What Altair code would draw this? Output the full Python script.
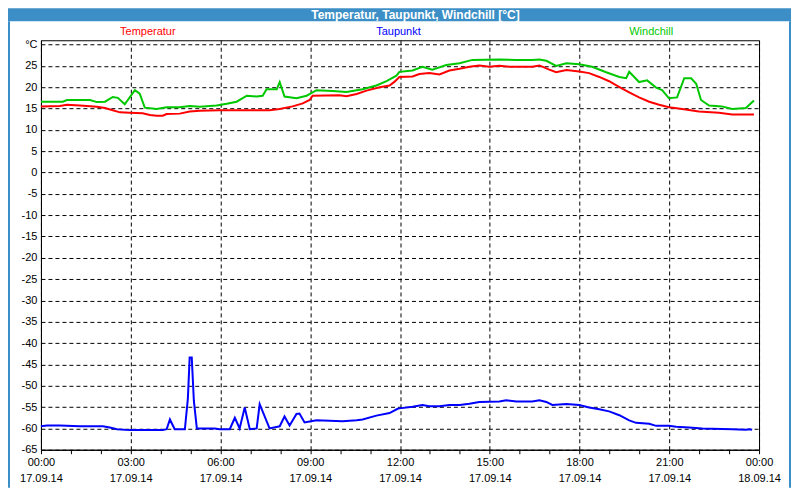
import altair as alt
import pandas as pd

# ---- data (hours since 17.09.14 00:00, values in °C) ----
temp_h = [0, 0.63, 0.87, 1.3, 1.87, 2.14, 2.4, 2.64, 2.97, 3.4, 3.64, 3.87, 4.07, 4.2, 4.64,
          4.97, 5.31, 5.97, 7.64, 7.98, 8.41, 8.75, 8.98, 9.08, 9.98, 10.21, 10.55, 10.88,
          11.32, 11.65, 11.82, 11.98, 12.42, 12.65, 12.98, 13.32, 13.65, 13.99, 14.32, 14.65,
          14.99, 15.32, 15.65, 16.42, 16.66, 16.99, 17.22, 17.56, 17.99, 18.32, 18.66, 18.99,
          19.32, 19.66, 19.99, 20.33, 20.66, 20.99, 21.43, 21.99, 22.66, 23.1, 23.83]
temp_v = [15.5, 15.6, 15.9, 15.7, 15.4, 15.1, 14.6, 14.1, 14.0, 13.9, 13.5, 13.3, 13.3, 13.7, 13.8,
          14.3, 14.5, 14.6, 14.6, 14.9, 15.5, 16.2, 17.0, 18.0, 18.1, 17.9, 18.4, 19.2,
          20.0, 20.4, 21.3, 22.4, 22.5, 23.1, 23.3, 23.0, 23.9, 24.3, 24.8, 25.1,
          24.8, 25.0, 24.8, 24.8, 25.1, 24.1, 23.5, 24.0, 23.7, 23.3, 22.4, 21.4,
          20.1, 18.8, 17.6, 16.6, 15.9, 15.3, 14.9, 14.3, 14.0, 13.6, 13.6]

dew_h = [0, 0.2, 0.63, 1.3, 2.07, 2.3, 2.54, 2.97, 4.07, 4.2, 4.31, 4.47, 4.81, 4.91, 4.97, 5.04,
         5.11, 5.21, 5.81, 5.97, 6.31, 6.48, 6.64, 6.81, 6.98, 7.21, 7.31, 7.64, 7.98, 8.14,
         8.31, 8.54, 8.64, 8.81, 8.98, 9.21, 10.08, 10.55, 10.75, 11.21, 11.65, 11.92, 11.98,
         12.42, 12.75, 12.98, 13.32, 13.65, 13.99, 14.32, 14.65, 15.32, 15.55, 15.89, 16.42,
         16.66, 16.89, 17.09, 17.56, 17.99, 18.32, 18.66, 18.99, 19.33, 19.66, 19.89, 20.33,
         20.56, 20.99, 21.23, 21.66, 22.1, 23.1, 23.56, 23.67, 23.77]
dew_v = [-59.5, -59.3, -59.3, -59.5, -59.5, -59.8, -60.2, -60.4, -60.4, -60.2, -57.9, -60.2, -60.2,
         -53.0, -43.4, -43.4, -53.5, -60.0, -60.0, -60.2, -60.2, -57.5, -60.0, -55.1, -60.2,
         -60.0, -54.3, -60.0, -59.5, -57.2, -59.3, -56.6, -56.5, -58.6, -58.4, -58.1, -58.3,
         -58.1, -57.9, -57.0, -56.4, -55.4, -55.3, -54.9, -54.5, -54.8, -54.8, -54.5, -54.5,
         -54.2, -53.8, -53.7, -53.4, -53.7, -53.7, -53.4, -53.8, -54.5, -54.3, -54.5, -55.1,
         -55.5, -56.0, -56.9, -58.1, -58.7, -58.9, -59.4, -59.4, -59.6, -59.8, -60.0, -60.2,
         -60.3, -60.2, -60.3]

chill_h = [0, 0.73, 0.87, 1.64, 1.87, 2.14, 2.4, 2.57, 2.8, 3.14, 3.3, 3.47, 3.87, 4.2, 4.64,
           4.97, 5.31, 5.87, 6.21, 6.54, 6.88, 7.21, 7.41, 7.54, 7.88, 7.98, 8.14, 8.54, 8.88,
           9.21, 9.75, 10.21, 10.75, 11.21, 11.55, 11.88, 11.98, 12.42, 12.75, 13.08, 13.55,
           13.99, 14.42, 15.32, 15.89, 16.42, 16.66, 16.89, 17.22, 17.56, 17.99, 18.42, 18.89,
           19.33, 19.56, 19.66, 19.99, 20.26, 20.56, 20.76, 20.99, 21.26, 21.5, 21.73, 21.9,
           22.06, 22.33, 22.76, 23.1, 23.56, 23.83]
chill_v = [16.6, 16.6, 17.0, 17.0, 16.5, 16.6, 17.7, 17.5, 16.0, 19.3, 18.5, 15.2, 14.9, 15.3, 15.3,
           15.6, 15.4, 15.7, 16.1, 16.6, 18.0, 17.8, 18.0, 19.5, 19.5, 21.2, 17.8, 17.4, 18.0,
           19.3, 19.1, 18.9, 19.5, 20.4, 21.4, 22.7, 23.6, 23.9, 24.8, 24.1, 25.2,
           25.6, 26.4, 26.5, 26.4, 26.4, 26.5, 26.2, 25.0, 25.6, 25.4, 24.8, 23.5,
           22.4, 22.1, 23.6, 21.2, 21.6, 19.9, 19.3, 17.4, 17.6, 22.1, 22.1, 20.8,
           17.0, 15.7, 15.5, 14.9, 15.1, 16.9]

series_names = ["Temperatur", "Taupunkt", "Windchill"]
series_colors = ["#ff0000", "#0000ff", "#00c800"]
x_ticks = list(range(0, 25))
y_ticks = list(range(-65, 31, 5))
title_text = "Temperatur, Taupunkt, Windchill [°C]"

rows = []
for name, hs, vs in zip(series_names, [temp_h, dew_h, chill_h], [temp_v, dew_v, chill_v]):
    for h, v in zip(hs, vs):
        rows.append({"series": name, "h": h, "v": v})
df = pd.DataFrame(rows)

FONT = "Liberation Sans"
W, H = 719, 410
PAD_T, PAD_B = 32, 38
BAR = "#3c8fc6"

x_label_expr = ("datum.value % 3 !== 0 ? '' : (datum.value == 24 ? ['00:00', '18.09.14'] : "
                "[(datum.value < 10 ? '0' : '') + datum.value + ':00', '17.09.14'])")

lines = alt.Chart(df).mark_line(strokeWidth=2, interpolate="linear").encode(
    x=alt.X("h:Q", scale=alt.Scale(domain=[0, 24], nice=False, zero=False),
            axis=alt.Axis(values=x_ticks, title=None, grid=True, gridColor="black",
                          gridDash=[4, 3],
                          gridOpacity={"condition": {"test": "datum.value % 3 === 0", "value": 1},
                                       "value": 0},
                          labelExpr=x_label_expr, labelFont=FONT, labelFontSize=11,
                          labelColor="black", labelLineHeight=16, labelPadding=3,
                          labelBaseline="top", labelOverlap=False, labelFlush=False,
                          tickSize=4, tickColor="black", domainColor="black")),
    y=alt.Y("v:Q", scale=alt.Scale(domain=[-65, 31], nice=False, zero=False),
            axis=alt.Axis(values=y_ticks, title=None, grid=True, gridColor="black",
                          gridDash=[4, 3],
                          labelExpr="datum.value == 30 ? '°C' : '' + datum.value",
                          labelFont=FONT, labelFontSize=11, labelColor="black",
                          labelPadding=4, ticks=False,
                          domainColor="black", labelOverlap=False, labelFlush=False)),
    color=alt.Color("series:N", scale=alt.Scale(domain=series_names, range=series_colors),
                    legend=None),
    detail="series:N",
)

one = pd.DataFrame({"a": [0]})
deco = alt.Chart(one)

title_bar = deco.mark_rect(color=BAR).encode(
    x=alt.value(-33), x2=alt.value(751), y=alt.value(-PAD_T), y2=alt.value(-PAD_T + 13))
left_frame = deco.mark_rect(color=BAR).encode(
    x=alt.value(-33), x2=alt.value(-31), y=alt.value(-PAD_T + 13), y2=alt.value(H + PAD_B))
right_frame = deco.mark_rect(color=BAR).encode(
    x=alt.value(749), x2=alt.value(751), y=alt.value(-PAD_T + 13), y2=alt.value(H + PAD_B))
title = deco.mark_text(text=title_text, font=FONT, fontSize=12, fontWeight="bold",
                       color="white", align="center", baseline="middle").encode(
    x=alt.value(375), y=alt.value(-PAD_T + 6.5))

legend_x = [107, 358, 611]
legend_layers = [
    deco.mark_text(text=n, font=FONT, fontSize=11, color=c, align="center",
                   baseline="middle").encode(x=alt.value(lx), y=alt.value(-8))
    for n, c, lx in zip(series_names, series_colors, legend_x)
]

chart = alt.layer(title_bar, left_frame, right_frame, title, *legend_layers, lines).properties(
    width=W, height=H,
    autosize=alt.AutoSizeParams(type="none"),
    padding={"left": 33, "top": PAD_T, "right": 33, "bottom": PAD_B},
    background="white",
).configure_view(stroke="black", strokeWidth=1)

chart.save("out.html", embed_options={"renderer": "svg", "actions": False})
